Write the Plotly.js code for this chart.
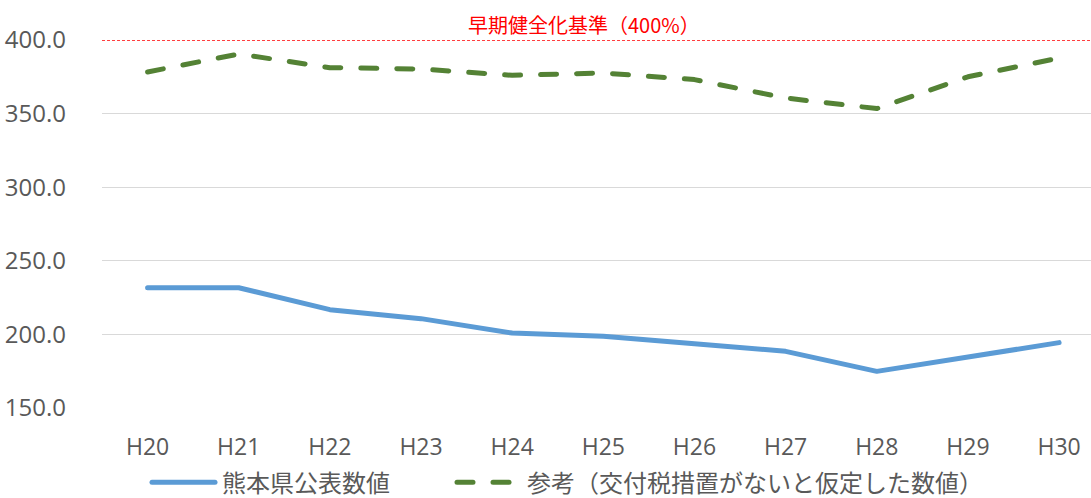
<!DOCTYPE html>
<html>
<head>
<meta charset="utf-8">
<script src="https://cdn.plot.ly/plotly-3.0.1.min.js"></script>
<style>
html,body{margin:0;padding:0;background:#fff;overflow:hidden;}
#chart{width:1091px;height:498px;}
.scatterlayer path.js-line{stroke-linecap:round;stroke-linejoin:round;}
.legend path.js-line{stroke-linecap:round;}
</style>
</head>
<body>
<div id="chart"></div>
<script>
const categories = ["H20","H21","H22","H23","H24","H25","H26","H27","H28","H29","H30"];
const publishedValues = [231.7, 231.7, 216.8, 210.7, 200.9, 198.7, 193.7, 188.5, 174.9, 184.6, 194.4];
const referenceValues = [378.3, 390.5, 381.2, 380.3, 376.0, 377.6, 373.1, 360.6, 353.4, 375.0, 387.8];
const seriesNames = ["熊本県公表数値", "参考（交付税措置がないと仮定した数値）"];
const thresholdValue = 400;
const thresholdLabel = "早期健全化基準（400%）";
const yTicks = [150, 200, 250, 300, 350, 400];

const cjk = '"Noto Sans CJK JP", "Open Sans", sans-serif';
const num = '"Open Sans", "Noto Sans CJK JP", sans-serif';

const traces = [
  {
    x: categories, y: publishedValues, name: seriesNames[0],
    type: "scatter", mode: "lines",
    line: {color: "#5B9BD5", width: 5}
  },
  {
    x: categories, y: referenceValues, name: seriesNames[1],
    type: "scatter", mode: "lines",
    line: {color: "#548235", width: 5, dash: "16px,20px"}
  }
];

const layout = {
  width: 1091, height: 498,
  margin: {l: 102, r: 0, t: 40, b: 90, autoexpand: false},
  paper_bgcolor: "#fff", plot_bgcolor: "#fff",
  showlegend: true,
  xaxis: {
    type: "category",
    range: [-0.5, 10.35],
    showgrid: false, zeroline: false,
    showline: false,
    ticks: "",
    automargin: false,
    ticklabelstandoff: 23,
    tickfont: {family: num, size: 23, color: "#595959"}
  },
  yaxis: {
    range: [150, 400],
    tickvals: yTicks,
    ticktext: yTicks.map(v => v.toFixed(1)),
    showgrid: true, gridcolor: "#D9D9D9", gridwidth: 1,
    zeroline: false, showline: false, ticks: "",
    automargin: false,
    ticklabelstandoff: 35,
    tickfont: {family: num, size: 24, color: "#595959"}
  },
  shapes: [
    {type: "line", xref: "paper", x0: 0, x1: 1, yref: "y", y0: thresholdValue, y1: thresholdValue,
     line: {color: "#FF0000", width: 1.5, dash: "3px,2px"}, layer: "above"}
  ],
  annotations: [
    {xref: "paper", x: 0.487, yref: "y", y: thresholdValue, yanchor: "bottom", yshift: -1,
     text: thresholdLabel, showarrow: false,
     font: {family: cjk, size: 20, color: "#FF0000"}}
  ],
  legend: {
    orientation: "h", xref: "paper", x: 0.49, xanchor: "center",
    y: -0.2, yanchor: "middle",
    font: {family: cjk, size: 24, color: "#595959"},
    bgcolor: "rgba(0,0,0,0)",
    traceorder: "normal"
  }
};

// desired legend text left edges and text vertical centre (page pixels)
const legendTextLeft = [222, 527];
const legendCenterY = 481;

Plotly.newPlot("chart", traces, layout, {displayModeBar: false, staticPlot: true}).then(gd => {
  const items = gd.querySelectorAll(".legend g.traces");
  items.forEach((g, i) => {
    const line = g.querySelector("path.js-line");
    if (line) line.setAttribute("d", "M-30,0h63");
    const txt = g.querySelector("text.legendtext");
    if (!txt) return;
    const r = txt.getBoundingClientRect();
    const dx = legendTextLeft[i] - r.left;
    const dy = legendCenterY - (r.top + r.height / 2);
    const m = /translate\(\s*([-\d.e]+)[ ,]+([-\d.e]+)\s*\)/.exec(g.getAttribute("transform") || "");
    const tx = m ? parseFloat(m[1]) : 0, ty = m ? parseFloat(m[2]) : 0;
    g.setAttribute("transform", `translate(${tx + dx},${ty + dy})`);
  });
  const clip = gd.querySelectorAll(".legend .scrollbox, .legend");
  clip.forEach(el => el.removeAttribute("clip-path"));
});
</script>
</body>
</html>
